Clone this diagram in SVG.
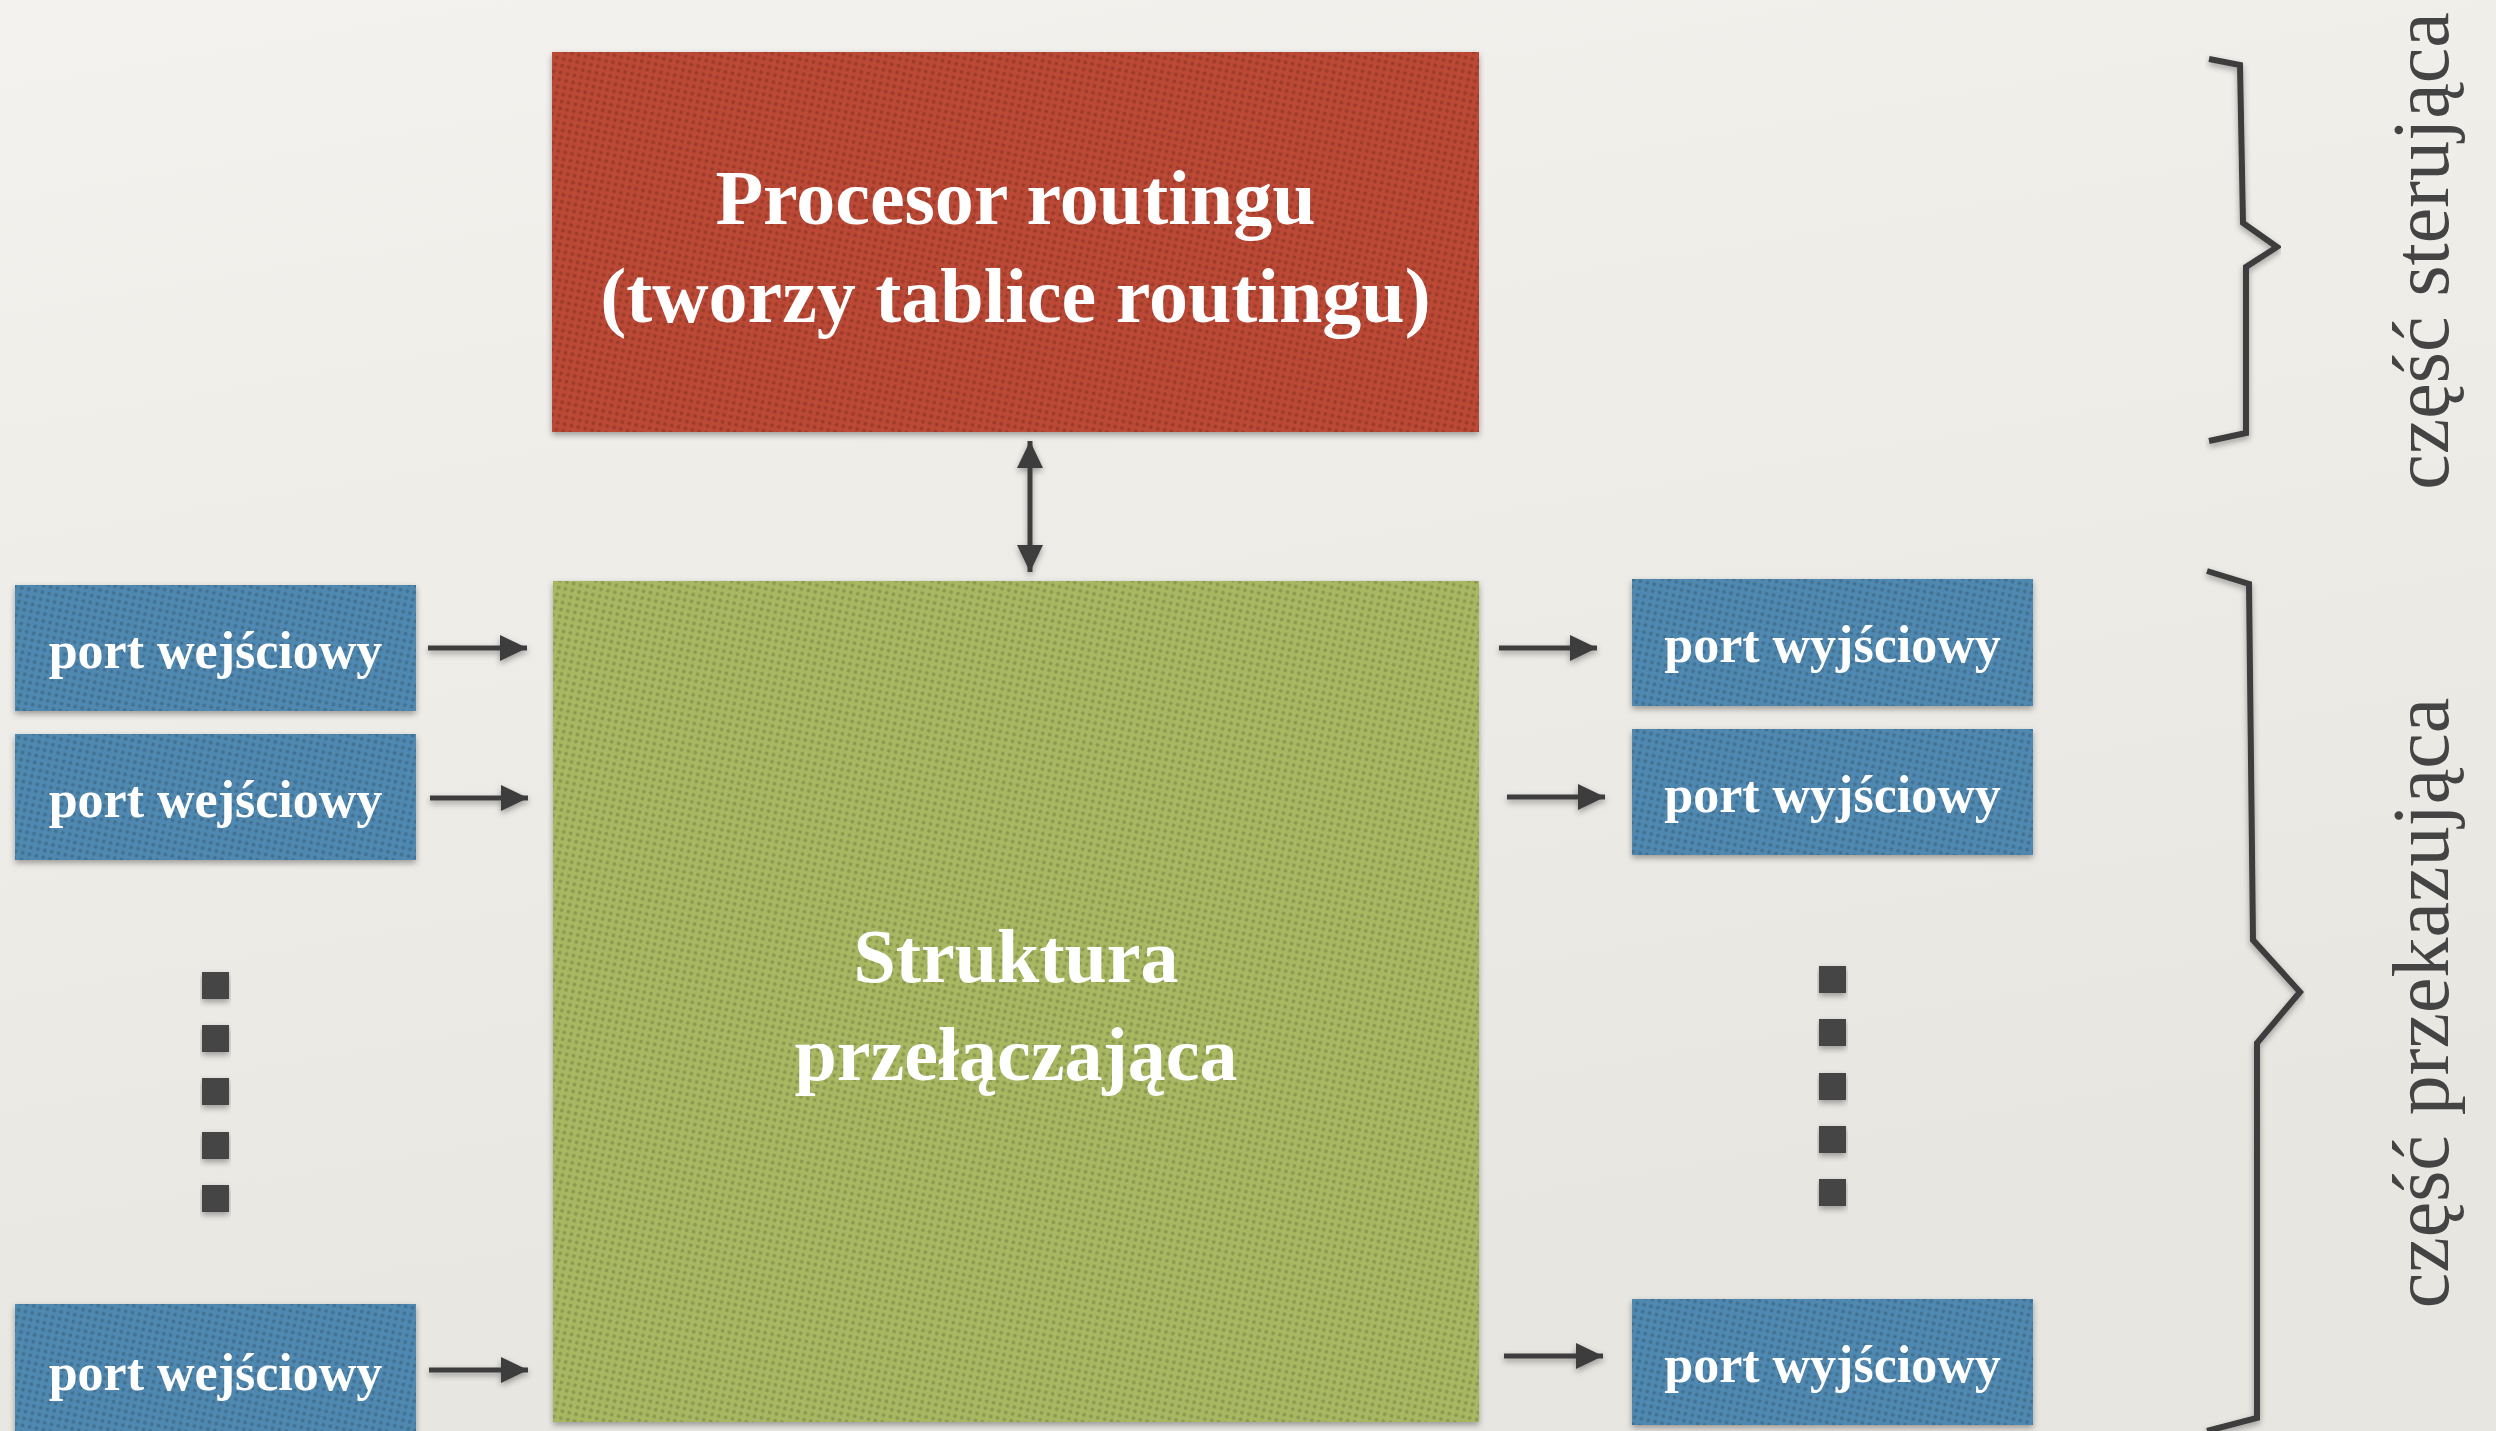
<svg xmlns="http://www.w3.org/2000/svg" width="2496" height="1431" viewBox="0 0 2496 1431">
  <style>
    .lbl { font-family: "Liberation Serif", "Times New Roman", serif; font-weight: bold; fill: #ffffff; text-anchor: middle; }
    .big { font-size: 78px; }
    .mid { font-size: 76px; }
    .port { font-size: 52px; }
    .side { font-family: "Liberation Serif", "Times New Roman", serif; font-size: 80px; fill: #444444; text-anchor: middle; }
    .wire { stroke: #3d3d3d; stroke-width: 5; fill: none; }
    .brace { stroke: #3d3d3d; stroke-width: 6; fill: none; stroke-linejoin: miter; }
    .dot { fill: #454545; }
    .tex { fill: url(#dots); }
  </style>
  <defs>
    <linearGradient id="paper" x1="0" y1="0" x2="0.3" y2="1">
      <stop offset="0" stop-color="#f3f2ee"/>
      <stop offset="1" stop-color="#e8e6e1"/>
    </linearGradient>
    <pattern id="dots" width="7" height="7" patternUnits="userSpaceOnUse" patternTransform="rotate(12)">
      <circle cx="3.5" cy="3.5" r="1.9" fill="#000000" fill-opacity="0.17"/>
    </pattern>
    <filter id="shadow" x="-5%" y="-5%" width="110%" height="115%">
      <feDropShadow dx="0" dy="3" stdDeviation="3" flood-color="#000000" flood-opacity="0.35"/>
    </filter>
    <marker id="head" viewBox="0 0 27 26" refX="27" refY="13" markerWidth="27" markerHeight="26" markerUnits="userSpaceOnUse" orient="auto-start-reverse">
      <path d="M0,0 L27,13 L0,26 z" fill="#3d3d3d"/>
    </marker>
  </defs>

  <!-- paper background -->
  <rect x="0" y="0" width="2496" height="1431" fill="url(#paper)"/>

  <!-- routing processor -->
  <g id="router" filter="url(#shadow)">
    <rect x="552" y="52" width="927" height="380" fill="#bb4835"/>
    <rect x="552" y="52" width="927" height="380" class="tex"/>
    <text class="lbl big" x="1015.5" y="224">Procesor routingu</text>
    <text class="lbl big" x="1015.5" y="322">(tworzy tablice routingu)</text>
  </g>

  <!-- switching fabric -->
  <g id="fabric" filter="url(#shadow)">
    <rect x="553" y="581" width="926" height="841" fill="#a8b862"/>
    <rect x="553" y="581" width="926" height="841" class="tex"/>
    <text class="lbl mid" x="1016" y="982">Struktura</text>
    <text class="lbl mid" x="1016" y="1080">przełączająca</text>
  </g>

  <!-- input ports -->
  <g id="in1" filter="url(#shadow)">
    <rect x="15" y="585" width="401" height="126" fill="#5088b0"/>
    <rect x="15" y="585" width="401" height="126" class="tex"/>
    <text class="lbl port" x="215.5" y="668">port wejściowy</text>
  </g>
  <g id="in2" filter="url(#shadow)">
    <rect x="15" y="734" width="401" height="126" fill="#5088b0"/>
    <rect x="15" y="734" width="401" height="126" class="tex"/>
    <text class="lbl port" x="215.5" y="817">port wejściowy</text>
  </g>
  <g id="in3" filter="url(#shadow)">
    <rect x="15" y="1304" width="401" height="140" fill="#5088b0"/>
    <rect x="15" y="1304" width="401" height="140" class="tex"/>
    <text class="lbl port" x="215.5" y="1390">port wejściowy</text>
  </g>
  <g id="in-more" filter="url(#shadow)">
    <rect class="dot" x="202" y="972" width="27" height="27"/>
    <rect class="dot" x="202" y="1025" width="27" height="27"/>
    <rect class="dot" x="202" y="1078" width="27" height="27"/>
    <rect class="dot" x="202" y="1132" width="27" height="27"/>
    <rect class="dot" x="202" y="1185" width="27" height="27"/>
  </g>

  <!-- output ports -->
  <g id="out1" filter="url(#shadow)">
    <rect x="1632" y="579" width="401" height="127" fill="#5088b0"/>
    <rect x="1632" y="579" width="401" height="127" class="tex"/>
    <text class="lbl port" x="1832.5" y="662">port wyjściowy</text>
  </g>
  <g id="out2" filter="url(#shadow)">
    <rect x="1632" y="729" width="401" height="126" fill="#5088b0"/>
    <rect x="1632" y="729" width="401" height="126" class="tex"/>
    <text class="lbl port" x="1832.5" y="812">port wyjściowy</text>
  </g>
  <g id="out3" filter="url(#shadow)">
    <rect x="1632" y="1299" width="401" height="126" fill="#5088b0"/>
    <rect x="1632" y="1299" width="401" height="126" class="tex"/>
    <text class="lbl port" x="1832.5" y="1382">port wyjściowy</text>
  </g>
  <g id="out-more" filter="url(#shadow)">
    <rect class="dot" x="1819" y="966" width="27" height="27"/>
    <rect class="dot" x="1819" y="1019" width="27" height="27"/>
    <rect class="dot" x="1819" y="1073" width="27" height="27"/>
    <rect class="dot" x="1819" y="1126" width="27" height="27"/>
    <rect class="dot" x="1819" y="1179" width="27" height="27"/>
  </g>

  <!-- connectors -->
  <g id="connectors" filter="url(#shadow)">
    <line class="wire" x1="1030" y1="441" x2="1030" y2="572" marker-start="url(#head)" marker-end="url(#head)"/>
    <line class="wire" x1="428" y1="648" x2="527" y2="648" marker-end="url(#head)"/>
    <line class="wire" x1="430" y1="798" x2="528" y2="798" marker-end="url(#head)"/>
    <line class="wire" x1="429" y1="1370" x2="528" y2="1370" marker-end="url(#head)"/>
    <line class="wire" x1="1499" y1="648" x2="1597" y2="648" marker-end="url(#head)"/>
    <line class="wire" x1="1507" y1="797" x2="1605" y2="797" marker-end="url(#head)"/>
    <line class="wire" x1="1504" y1="1356" x2="1603" y2="1356" marker-end="url(#head)"/>
  </g>

  <!-- control plane brace -->
  <g id="control-plane">
    <polyline class="brace" filter="url(#shadow)" points="2209,59 2240,65 2243,223 2277,247 2246,267 2246,433 2209,441"/>
    <text class="side" transform="translate(2448,251) rotate(-90)">część sterująca</text>
  </g>

  <!-- forwarding plane brace -->
  <g id="forwarding-plane">
    <polyline class="brace" filter="url(#shadow)" points="2207,571 2249,584 2253,940 2300,992 2257,1043 2257,1418 2207,1431"/>
    <text class="side" transform="translate(2448,1003) rotate(-90)">część przekazująca</text>
  </g>
</svg>
